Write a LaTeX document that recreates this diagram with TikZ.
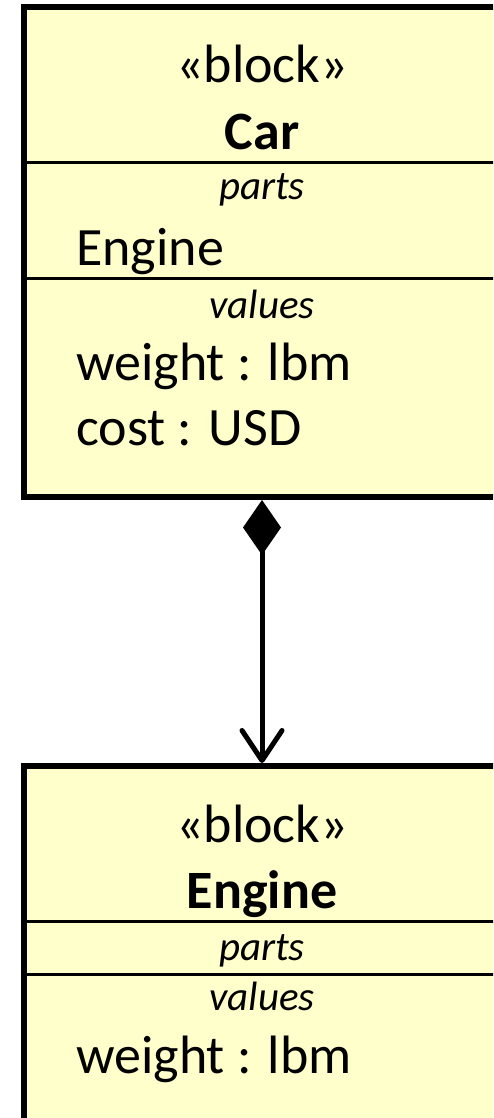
\documentclass[tikz,border=0pt]{standalone}
\usepackage{fontspec}
\setmainfont{Carlito}
\usetikzlibrary{arrows.meta}

\definecolor{blockfill}{RGB}{255,255,204}

\tikzset{
	blockbox/.style={draw, line width=6pt, fill=blockfill, inner sep=0pt, minimum width=476pt},
	divider/.style={line width=3pt},
	big/.style={inner sep=0pt, font=\fontsize{54}{64}\selectfont},
	small/.style={inner sep=0pt, font=\fontsize{41}{49}\selectfont\itshape},
	assoc/.style={line width=5pt, {Diamond[length=55pt,width=38pt]}-{Straight Barb[length=30pt,width=40pt,round]}}
}

\begin{document}
\begin{tikzpicture}[x=1pt,y=-1pt]
			\useasboundingbox (0,0) rectangle (493,1118);
			\clip (0,0) rectangle (493,1118);
			% Car
			\node (car) [blockbox, minimum height=490pt] at (262,252) {};
			\draw [divider] (24,163) -- (500,163);
			\draw [divider] (24,278) -- (500,278);
			\node (carstereo) [big, anchor=base] at (262,83) {«block»};
			\node (carname) [big, anchor=base] at (262,150) {\bfseries Car};
			\node (carparts) [small, anchor=base] at (262,200) {parts};
			\node (carengine) [big, anchor=base west] at (76,265) {Engine};
			\node (carvalues) [small, anchor=base] at (262,318) {values};
			\node (carweight) [big, anchor=base west] at (76,380) {weight : lbm};
			\node (carcost) [big, anchor=base west] at (76,445) {cost : USD};
			% Engine
			\node (engine) [blockbox, minimum height=358pt] at (262,945) {};
			\draw [divider] (24,921) -- (500,921);
			\draw [divider] (24,974) -- (500,974);
			\node (enginestereo) [big, anchor=base] at (262,842) {«block»};
			\node (enginename) [big, anchor=base] at (262,908) {\bfseries Engine};
			\node (engineparts) [small, anchor=base] at (262,960) {parts};
			\node (enginevalues) [small, anchor=base] at (262,1010) {values};
			\node (engineweight) [big, anchor=base west] at (76,1073) {weight : lbm};
			% composition
			\draw [assoc] (car.south) -- (engine.north);
		\end{tikzpicture}
\end{document}
